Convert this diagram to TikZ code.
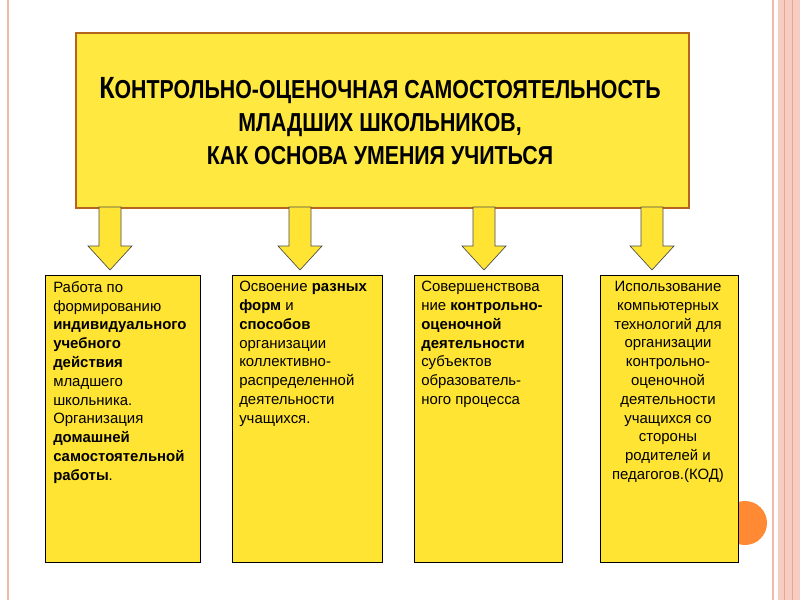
\documentclass[tikz,border=0pt]{standalone}
\usepackage{fontspec}
\setmainfont{Liberation Sans}
\newfontfamily\narrowbold[FakeStretch=0.82]{Liberation Sans Bold}
\begin{document}
\begin{tikzpicture}[x=0.75pt,y=-0.75pt,
  ybox/.style={draw=black,fill=boxyellow,line width=0.6pt},
  darr/.style={draw=black!70,fill=boxyellow,line width=0.5pt},
  txt/.style={anchor=north west,align=left,font=\fontsize{11.2pt}{14.1pt}\selectfont,inner sep=0pt}]
\definecolor{boxyellow}{HTML}{FFE433}
\definecolor{titleyellow}{HTML}{FFE840}
\definecolor{brownb}{HTML}{B5651D}
\definecolor{pinkl}{HTML}{F2B8A8}
\useasboundingbox (0,0) rectangle (800,600);
\fill[white] (0,0) rectangle (800,600);
\draw[pinkl,line width=1pt] (8,0) -- (8,600);
\draw[pinkl,line width=1pt] (773,0) -- (773,600);
\fill[pinkl!70] (778,0) rectangle (800,600);
\draw[pinkl!130,line width=0.6pt] (784,0) -- (784,600) (792,0) -- (792,600);
% title
\node[draw=brownb,fill=titleyellow,line width=1.2pt,minimum width=613*0.75pt,minimum height=175*0.75pt,anchor=north west,inner sep=0pt] (title) at (75,32) {};
\node[align=center,font=\narrowbold\fontsize{19.5pt}{25pt}\selectfont] (tt) at (380,121)
 {{\fontsize{23pt}{25pt}\selectfont К}ОНТРОЛЬНО-ОЦЕНОЧНАЯ САМОСТОЯТЕЛЬНОСТЬ\\МЛАДШИХ ШКОЛЬНИКОВ,\\КАК ОСНОВА УМЕНИЯ УЧИТЬСЯ};
% boxes
\node[ybox,anchor=north west,minimum width=155*0.75pt,minimum height=287*0.75pt,inner sep=0pt] (b1) at (45,275) {};
\node[ybox,anchor=north west,minimum width=150*0.75pt,minimum height=287*0.75pt,inner sep=0pt] (b2) at (232,275) {};
\node[ybox,anchor=north west,minimum width=148*0.75pt,minimum height=287*0.75pt,inner sep=0pt] (b3) at (414,275) {};
\fill[orange!85!red!80] (745,523) circle (22);
\node[ybox,anchor=north west,minimum width=138*0.75pt,minimum height=287*0.75pt,inner sep=0pt] (b4) at (600,275) {};
% arrows
\foreach \c in {110,300,484,652}{
 \filldraw[darr] (\c-11,207) -- (\c+11,207) -- (\c+11,246) -- (\c+22,246) -- (\c,270) -- (\c-22,246) -- (\c-11,246) -- cycle;}
% texts
\node[txt] (t1) at (53,281) {Работа по\\формированию\\\textbf{индивидуального}\\\textbf{учебного}\\\textbf{действия}\\младшего\\школьника.\\Организация\\\textbf{домашней}\\\textbf{самостоятельной}\\\textbf{работы}.};
\node[txt] (t2) at (239,281) {Освоение \textbf{разных}\\\textbf{форм} и\\\textbf{способов}\\организации\\коллективно-\\распределенной\\деятельности\\учащихся.};
\node[txt] (t3) at (421,281) {Совершенствова\\ние \textbf{контрольно-}\\\textbf{оценочной}\\\textbf{деятельности}\\субъектов\\образователь-\\ного процесса};
\node[txt,anchor=north,align=center] (t4) at (668,281) {Использование\\компьютерных\\технологий для\\организации\\контрольно-\\оценочной\\деятельности\\учащихся со\\стороны\\родителей и\\педагогов.(КОД)};
\end{tikzpicture}
\end{document}
